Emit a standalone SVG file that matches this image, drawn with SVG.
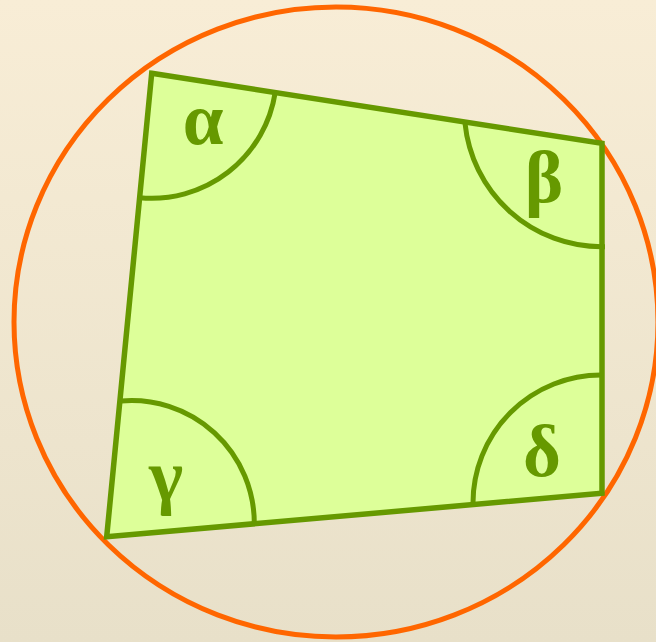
<svg xmlns="http://www.w3.org/2000/svg" width="656" height="642" viewBox="0 0 656 642">
  <defs>
    <linearGradient id="bg" x1="0" y1="0" x2="0" y2="1">
      <stop offset="0" stop-color="#f8edd6"/>
      <stop offset="1" stop-color="#e8e0c9"/>
    </linearGradient>
    <style>
      .edge { fill: #ddff99; stroke: #669900; stroke-width: 5.5; stroke-linejoin: miter; }
      .arc { fill: none; stroke: #669900; stroke-width: 5; }
      .lbl { fill: #669900; text-anchor: middle; }
      .circ { fill: none; stroke: #ff6600; stroke-width: 5; }
    </style>
  </defs>
  <rect x="0" y="0" width="656" height="642" fill="url(#bg)"/>
  <g id="circle">
    <ellipse class="circ" cx="336" cy="322" rx="322" ry="315"/>
  </g>
  <g id="quadrilateral">
    <polygon class="edge" points="151.7,73.3 602,143.3 602,493.3 106.7,536.7"/>
  </g>
  <g id="angles" font-family="Liberation Serif, serif" font-size="73" font-weight="bold">
    <g id="alpha">
      <path class="arc" d="M275.2,92.5 A125,125 0 0 1 139.6,197.7"/>
      <text class="lbl" x="203" y="144">α</text>
    </g>
    <g id="beta">
      <path class="arc" d="M465,123.3 A137.4,137.4 0 0 0 601.7,246.7 L605,246.7"/>
      <text class="lbl" x="544" y="202">β</text>
    </g>
    <g id="gamma">
      <path class="arc" d="M121,401 A122.8,122.8 0 0 1 254.3,523.3 L254.3,525"/>
      <text class="lbl" x="166" y="500">γ</text>
    </g>
    <g id="delta">
      <path class="arc" d="M601,375 A128,128 0 0 0 473,503 L473,506"/>
      <text class="lbl" x="542" y="476">δ</text>
    </g>
  </g>
</svg>
